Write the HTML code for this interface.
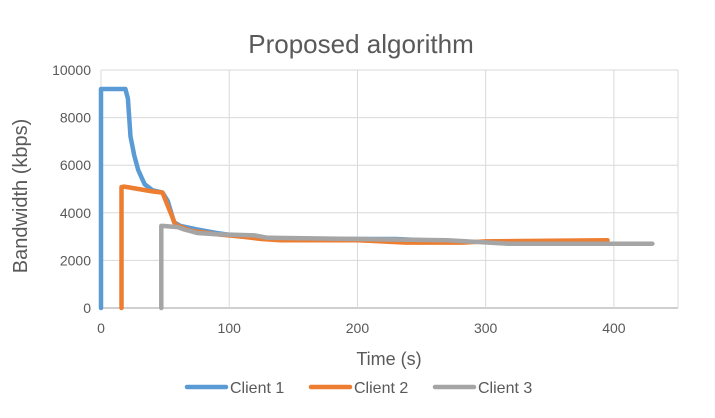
<!DOCTYPE html>
<html><head><meta charset="utf-8"><style>
body{margin:0;background:#fff;}
svg{display:block;font-family:"Liberation Sans",sans-serif;}
</style></head><body>
<svg id="chart" width="715" height="418">
<rect width="715" height="418" fill="#fff"/>
<text x="361" y="53" font-size="26" fill="#595959" text-anchor="middle">Proposed algorithm</text>
<g id="grid"></g><g id="series"></g><g id="ticks"></g>
<text x="389" y="365" font-size="18" fill="#595959" text-anchor="middle">Time (s)</text>
<text transform="translate(27,196) rotate(-90)" font-size="20" fill="#595959" text-anchor="middle">Bandwidth (kbps)</text>
<g id="legend"></g>
</svg>
<script>
const xTicks=[0,100,200,300,400];
const yTicks=[0,2000,4000,6000,8000,10000];
const seriesNames=["Client 1","Client 2","Client 3"];
const seriesColors=["#5b9bd5","#ed7d31","#a5a5a5"];
const client1T=[0,0,19,21,23,26,29,34,40,48,52,57,62,75,90,110,150,200,230,252];
const client1V=[0,9200,9200,8800,7200,6400,5800,5200,4950,4850,4500,3600,3450,3300,3150,3000,2900,2900,2900,2850];
const client2T=[16,16,18,40,48,52,58,70,90,110,125,140,200,238,282,300,395];
const client2V=[0,5080,5100,4900,4850,4300,3500,3250,3100,3000,2900,2850,2850,2750,2750,2800,2850];
const client3T=[47,47,48,60,65,75,90,120,130,200,270,318,430];
const client3V=[0,3450,3450,3400,3300,3150,3100,3050,2950,2900,2850,2700,2700];
const allT=[client1T,client2T,client3T];
const allV=[client1V,client2V,client3V];
const NS="http://www.w3.org/2000/svg";
const X0=101,X1=678,Y0=308,Y1=70,XMAX=450,YMAX=10000;
function xs(t){return X0+(X1-X0)*t/XMAX;}
function ys(v){return Y0-(Y0-Y1)*v/YMAX;}
function mk(tag,attrs,parent){const e=document.createElementNS(NS,tag);for(const k in attrs)e.setAttribute(k,attrs[k]);document.getElementById(parent).appendChild(e);return e;}
yTicks.forEach(v=>{
 const l=mk("line",{x1:X0,x2:X1,y1:ys(v),y2:ys(v),stroke:v===0?"#bfbfbf":"#d9d9d9","stroke-width":v===0?1.5:1},"grid");
 
 
 const t=mk("text",{x:X0-10,y:ys(v)+5,"font-size":14,fill:"#595959","text-anchor":"end"},"ticks");
 t.textContent=v;
 
 
});
xTicks.forEach(v=>{
 const l=mk("line",{x1:xs(v),x2:xs(v),y1:Y1,y2:Y0,stroke:"#d9d9d9","stroke-width":1},"grid");
 
 
 const t=mk("text",{x:xs(v),y:Y0+25,"font-size":14,fill:"#595959","text-anchor":"middle"},"ticks");
 t.textContent=v;
 
 
});
const rl=mk("line",{x1:X1,x2:X1,y1:Y1,y2:Y0,stroke:"#d9d9d9"},"grid");


allT.forEach((T,i)=>{
 const pts=T.map((t,j)=>xs(t).toFixed(1)+","+ys(allV[i][j]).toFixed(1)).join(" ");
 const p=mk("polyline",{points:pts,fill:"none",stroke:seriesColors[i],"stroke-width":4.5,"stroke-linejoin":"round","stroke-linecap":"round"},"series");
 
 
});
const lx=[185,309,433];
seriesNames.forEach((n,i)=>{
 const l=mk("line",{x1:lx[i]+2,x2:lx[i]+41,y1:387,y2:387,stroke:seriesColors[i],"stroke-width":4.5,"stroke-linecap":"round"},"legend");
 
 
 const t=mk("text",{x:lx[i]+45,y:393,"font-size":16,fill:"#595959"},"legend");
 t.textContent=n;
 
 
});
</script>
</body></html>
